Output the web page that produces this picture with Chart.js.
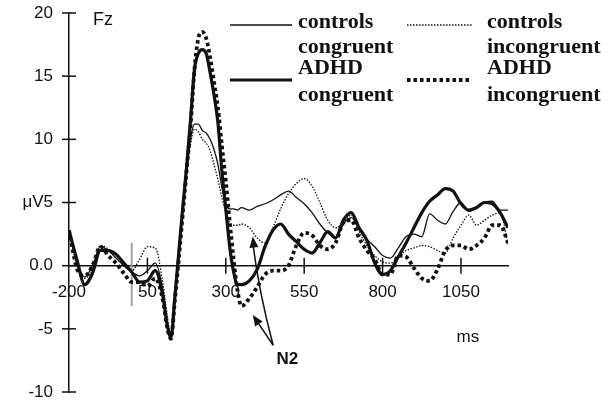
<!DOCTYPE html>
<html>
<head>
<meta charset="utf-8">
<script src="https://cdn.jsdelivr.net/npm/chart.js@4"></script>
<style>
  html, body { margin: 0; padding: 0; background: #fff; }
  #wrap { width: 608px; height: 405px; }
</style>
</head>
<body>
<div id="wrap"><canvas id="erpChart" width="608" height="405"></canvas></div>
<script>
// time points (ms), denser around the P2/N2 peak
const timesMs = [
  -200, -175, -150, -125, -100, -75, -50, -25, 0, 25, 50, 75, 100,
  112.5, 125, 137.5, 150, 162.5, 175, 187.5, 200, 212.5, 225, 237.5, 250,
  262.5, 275, 287.5, 300, 312.5, 325, 337.5,
  350, 375, 400, 425, 450, 475, 500, 525, 550, 575, 600, 625, 650, 675, 700,
  725, 750, 775, 800, 825, 850, 875, 900, 925, 950, 975, 1000, 1025, 1050,
  1075, 1100, 1125, 1150, 1175, 1200
];

// amplitudes in µV
const controlsCongruent = [
  2.8, 0.3, -0.9, 0.0, 1.5, 1.2, 0.6, 0.0, -0.5, -0.8, -0.4, 0.2, -2.0,
  -4.4, -5.6, -2.6, 1.0, 4.5, 7.5, 10.0, 11.2, 11.2, 10.7, 10.5, 10.0,
  9.2, 8.0, 6.2, 4.9, 4.5, 4.5, 4.4,
  4.6, 4.4, 4.7, 4.9, 5.2, 5.6, 5.9, 5.4, 4.9, 4.2, 3.3, 2.6, 2.2, 3.3, 3.8,
  3.0, 2.1, 1.5, 0.8, 0.6, 1.4, 2.3, 2.5, 2.3, 4.1, 3.6, 3.3, 4.3, 5.0,
  4.3, 4.6, 5.0, 5.1, 4.4, 4.4
];
const controlsIncongruent = [
  2.8, 0.0, -1.0, -0.3, 1.6, 1.3, 0.6, 0.0, -0.4, 0.5, 1.5, 1.4, -1.5,
  -3.8, -5.6, -2.5, 1.0, 4.5, 7.3, 9.6, 10.8, 10.6, 10.0, 9.7, 9.1,
  8.0, 6.8, 5.4, 4.2, 3.4, 3.2, 3.2,
  3.3, 3.0, 2.2, 1.8, 3.0, 4.5, 5.7, 6.5, 6.9, 6.3, 5.0, 3.6, 3.0, 3.4, 4.0,
  2.7, 1.6, 0.8, 0.3, 0.2, 0.7, 1.2, 1.4, 1.6, 1.5, 1.2, 1.0, 2.2, 3.2,
  4.0, 3.2, 3.6, 4.0, 4.2, 1.7
];
const adhdCongruent = [
  2.8, 0.5, -1.5, -0.6, 1.2, 1.2, 0.9, 0.2, -0.5, -1.3, -1.2, -0.4, -2.5,
  -4.6, -5.7, -2.5, 1.0, 4.5, 7.8, 11.5, 15.5, 16.8, 17.1, 16.8, 15.3,
  13.5, 11.3, 7.5, 4.5, 1.5, -0.5, -1.5,
  -1.5, -1.2, -0.3, 1.5, 2.8, 3.3, 2.5, 1.9, 1.3, 1.0, 1.8, 2.7, 2.2, 3.6, 4.2,
  3.0, 2.0, 0.2, -0.7, -0.4, 0.7, 1.8, 3.0, 4.2, 5.1, 5.6, 6.1, 5.9, 4.9,
  4.4, 4.6, 5.0, 4.9, 4.2, 3.0
];
const adhdIncongruent = [
  2.8, -0.2, -0.8, 0.0, 1.5, 0.8, 0.2, -0.6, -1.3, -1.3, -1.6, -1.0, -2.8,
  -4.8, -5.8, -2.8, 0.5, 4.0, 7.5, 11.0, 15.5, 18.0, 18.5, 18.0, 16.5,
  14.5, 12.5, 9.5, 6.7, 3.5, 0.5, -2.0,
  -3.2, -2.6, -1.7, -0.7, -0.4, -0.4, 0.0, 1.6, 2.6, 2.4, 1.6, 1.3, 1.8, 3.4, 3.6,
  2.2, 1.2, 0.5, -0.7, -0.7, 0.8, 0.7, -0.2, -1.0, -1.2, -0.3, 1.2, 1.6, 1.6,
  1.3, 1.6, 2.2, 3.2, 3.2, 1.8
];

const xTickValues = [-200, 50, 300, 550, 800, 1050];
const yTickValues = [-10, -5, 0, 5, 10, 15, 20];

const legendRows = [
  { group: 'controls', cond: 'congruent' },
  { group: 'controls', cond: 'incongruent' },
  { group: 'ADHD', cond: 'congruent' },
  { group: 'ADHD', cond: 'incongruent' }
];

const INK = '#111';
const SANS = '"Liberation Sans", Arial, sans-serif';
const SERIF = '"Liberation Serif", "Times New Roman", serif';

function toPoints(values) {
  return timesMs.map((t, i) => ({ x: t, y: values[i] }));
}

const lineStyles = [
  { width: 1.3, dash: [] },
  { width: 1.3, dash: [1.5, 1.5] },
  { width: 3.2, dash: [] },
  { width: 3.8, dash: [3.5, 3] }
];

const overlayPlugin = {
  id: 'erpOverlay',
  beforeDatasetsDraw(chart) {
    const { ctx, scales: { x, y } } = chart;
    // stimulus onset marker
    ctx.save();
    ctx.strokeStyle = '#a0a0a0';
    ctx.lineWidth = 2;
    ctx.beginPath();
    ctx.moveTo(x.getPixelForValue(0), y.getPixelForValue(1.8));
    ctx.lineTo(x.getPixelForValue(0), y.getPixelForValue(-3.2));
    ctx.stroke();
    ctx.restore();
  },
  afterDraw(chart) {
    const { ctx, scales: { x, y } } = chart;
    ctx.save();
    ctx.strokeStyle = INK;
    ctx.lineWidth = 1.5;

    // tick marks crossing the axes
    const y0 = y.getPixelForValue(0);
    const xLeft = x.getPixelForValue(-200);
    yTickValues.forEach(v => {
      const py = y.getPixelForValue(v);
      ctx.beginPath();
      ctx.moveTo(xLeft - 7, py);
      ctx.lineTo(xLeft + 7, py);
      ctx.stroke();
    });
    xTickValues.forEach(v => {
      if (v === -200) return;
      const px = x.getPixelForValue(v);
      ctx.beginPath();
      ctx.moveTo(px, y0 - 8);
      ctx.lineTo(px, y0 + 8);
      ctx.stroke();
    });

    // electrode label and axis unit
    ctx.fillStyle = INK;
    ctx.font = '18px ' + SANS;
    ctx.textBaseline = 'middle';
    ctx.textAlign = 'left';
    ctx.fillText('Fz', 93, 20);
    ctx.font = '17px ' + SANS;
    ctx.textAlign = 'center';
    ctx.fillText('ms', x.getPixelForValue(1072), y.getPixelForValue(-5.7));

    // N2 annotation
    ctx.font = 'bold 17px ' + SANS;
    ctx.fillText('N2', x.getPixelForValue(496), y.getPixelForValue(-7.4));
    const ox = x.getPixelForValue(451), oy = y.getPixelForValue(-6.3);
    const tips = [
      { tx: x.getPixelForValue(386), ty: y.getPixelForValue(2.3), cx: x.getPixelForValue(405), cy: y.getPixelForValue(-2) },
      { tx: x.getPixelForValue(386), ty: y.getPixelForValue(-3.9), cx: null, cy: null }
    ];
    ctx.lineWidth = 1.5;
    tips.forEach(t => {
      ctx.beginPath();
      ctx.moveTo(ox, oy);
      let ang;
      if (t.cx !== null) {
        ctx.quadraticCurveTo(t.cx, t.cy, t.tx, t.ty + 6);
        ang = Math.atan2(t.ty - t.cy, t.tx - t.cx);
      } else {
        ang = Math.atan2(t.ty - oy, t.tx - ox);
        ctx.lineTo(t.tx - 6 * Math.cos(ang), t.ty - 6 * Math.sin(ang));
      }
      ctx.stroke();
      const L = 11, W = 4.5;
      ctx.beginPath();
      ctx.moveTo(t.tx, t.ty);
      ctx.lineTo(t.tx - L * Math.cos(ang) + W * Math.sin(ang), t.ty - L * Math.sin(ang) - W * Math.cos(ang));
      ctx.lineTo(t.tx - L * Math.cos(ang) - W * Math.sin(ang), t.ty - L * Math.sin(ang) + W * Math.cos(ang));
      ctx.closePath();
      ctx.fill();
    });

    // legend
    const cols = [{ x1: 230, x2: 292, tx: 298 }, { x1: 407, x2: 472, tx: 487 }];
    const rowY = [{ line: 25, t1: 22, t2: 47 }, { line: 80, t1: 68, t2: 95 }];
    ctx.font = 'bold 22px ' + SERIF;
    ctx.textAlign = 'left';
    legendRows.forEach((item, i) => {
      const col = cols[i % 2];
      const row = rowY[Math.floor(i / 2)];
      const st = lineStyles[i];
      ctx.save();
      ctx.lineWidth = st.width;
      ctx.setLineDash(st.dash);
      ctx.beginPath();
      ctx.moveTo(col.x1, row.line);
      ctx.lineTo(col.x2, row.line);
      ctx.stroke();
      ctx.restore();
      ctx.fillText(item.group, col.tx, row.t1);
      ctx.fillText(item.cond, col.tx, row.t2);
    });
    ctx.restore();
  }
};

const seriesValues = [controlsCongruent, controlsIncongruent, adhdCongruent, adhdIncongruent];

new Chart(document.getElementById('erpChart'), {
  type: 'line',
  data: {
    datasets: seriesValues.map((vals, i) => ({
      label: legendRows[i].group + ' ' + legendRows[i].cond,
      data: toPoints(vals),
      borderColor: INK,
      borderWidth: lineStyles[i].width,
      borderDash: lineStyles[i].dash,
      borderCapStyle: 'butt',
      pointRadius: 0,
      fill: false,
      cubicInterpolationMode: 'monotone'
    }))
  },
  options: {
    responsive: false,
    animation: false,
    layout: { autoPadding: false, padding: { top: 13, bottom: 13, right: 100, left: 0 } },
    plugins: { legend: { display: false }, tooltip: { enabled: false } },
    scales: {
      x: {
        type: 'linear',
        min: -200,
        max: 1200,
        position: { y: 0 },
        afterBuildTicks: s => { s.ticks = xTickValues.map(v => ({ value: v })); },
        afterFit: s => { s.height = 0; s.paddingLeft = 0; s.paddingRight = 0; },
        grid: { display: false, drawTicks: false },
        border: { display: true, color: INK, width: 1.5 },
        ticks: {
          autoSkip: false, maxRotation: 0, padding: 16,
          color: INK, font: { family: SANS, size: 17 },
          callback: v => String(v)
        }
      },
      y: {
        min: -10,
        max: 20,
        afterBuildTicks: s => { s.ticks = yTickValues.map(v => ({ value: v })); },
        afterFit: s => { s.width = 69; s.paddingTop = 0; s.paddingBottom = 0; },
        grid: { display: false, drawTicks: false },
        border: { display: true, color: INK, width: 1.5 },
        ticks: {
          padding: 16,
          color: INK, font: { family: SANS, size: 17 },
          callback: v => (v === 5 ? 'μV5' : v === 0 ? '0.0' : String(v))
        }
      }
    }
  },
  plugins: [overlayPlugin]
});
</script>
</body>
</html>
